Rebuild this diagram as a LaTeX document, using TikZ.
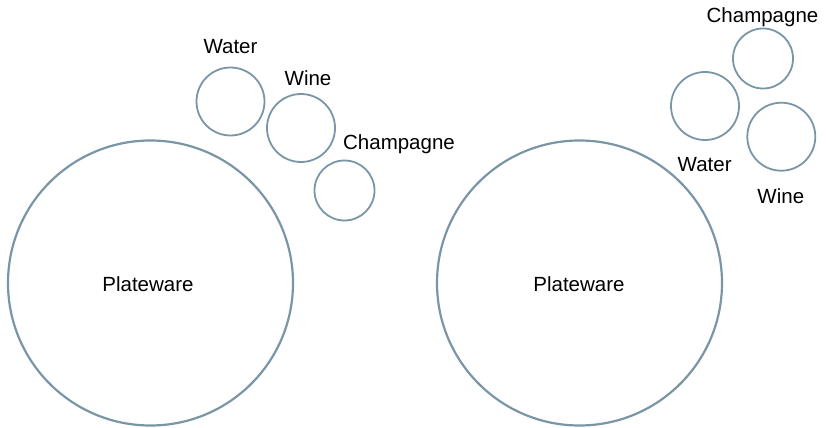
\documentclass[tikz,border=0pt]{standalone}
\usepackage{fontspec}
\setmainfont{Liberation Sans}
\definecolor{rim}{RGB}{122,150,166}
\begin{document}
\begin{tikzpicture}[x=1pt,y=-1pt,
plate/.style={circle,draw=rim,line width=2.2pt,minimum size=285pt,inner sep=0pt},
glass/.style={circle,draw=rim,line width=1.8pt,inner sep=0pt},
lbl/.style={font=\fontsize{20.5}{24}\selectfont,inner sep=0pt,anchor=base}]
\useasboundingbox (0,0) rectangle (828,428);
% left setting
\node[plate] (plateL) at (150.5,283) {};
\node[glass,minimum size=68pt] (waterL) at (230.5,101.5) {};
\node[glass,minimum size=68pt] (wineL) at (301,128) {};
\node[glass,minimum size=60pt] (champL) at (344.5,190.5) {};
\node[lbl] (plateLtxt) at (148,291.5) {Plateware};
\node[lbl] (waterLtxt) at (230.5,54) {Water};
\node[lbl] (wineLtxt) at (308,85) {Wine};
\node[lbl] (champLtxt) at (399,149) {Champagne};
% right setting
\node[plate] (plateR) at (579.5,283) {};
\node[glass,minimum size=60pt] (champR) at (763,58.5) {};
\node[glass,minimum size=68pt] (waterR) at (705,106) {};
\node[glass,minimum size=68pt] (wineR) at (781.3,136.7) {};
\node[lbl] (plateRtxt) at (579,291.5) {Plateware};
\node[lbl] (champRtxt) at (762.5,23) {Champagne};
\node[lbl] (waterRtxt) at (704.7,171) {Water};
\node[lbl] (wineRtxt) at (780.8,203) {Wine};
\end{tikzpicture}
\end{document}
